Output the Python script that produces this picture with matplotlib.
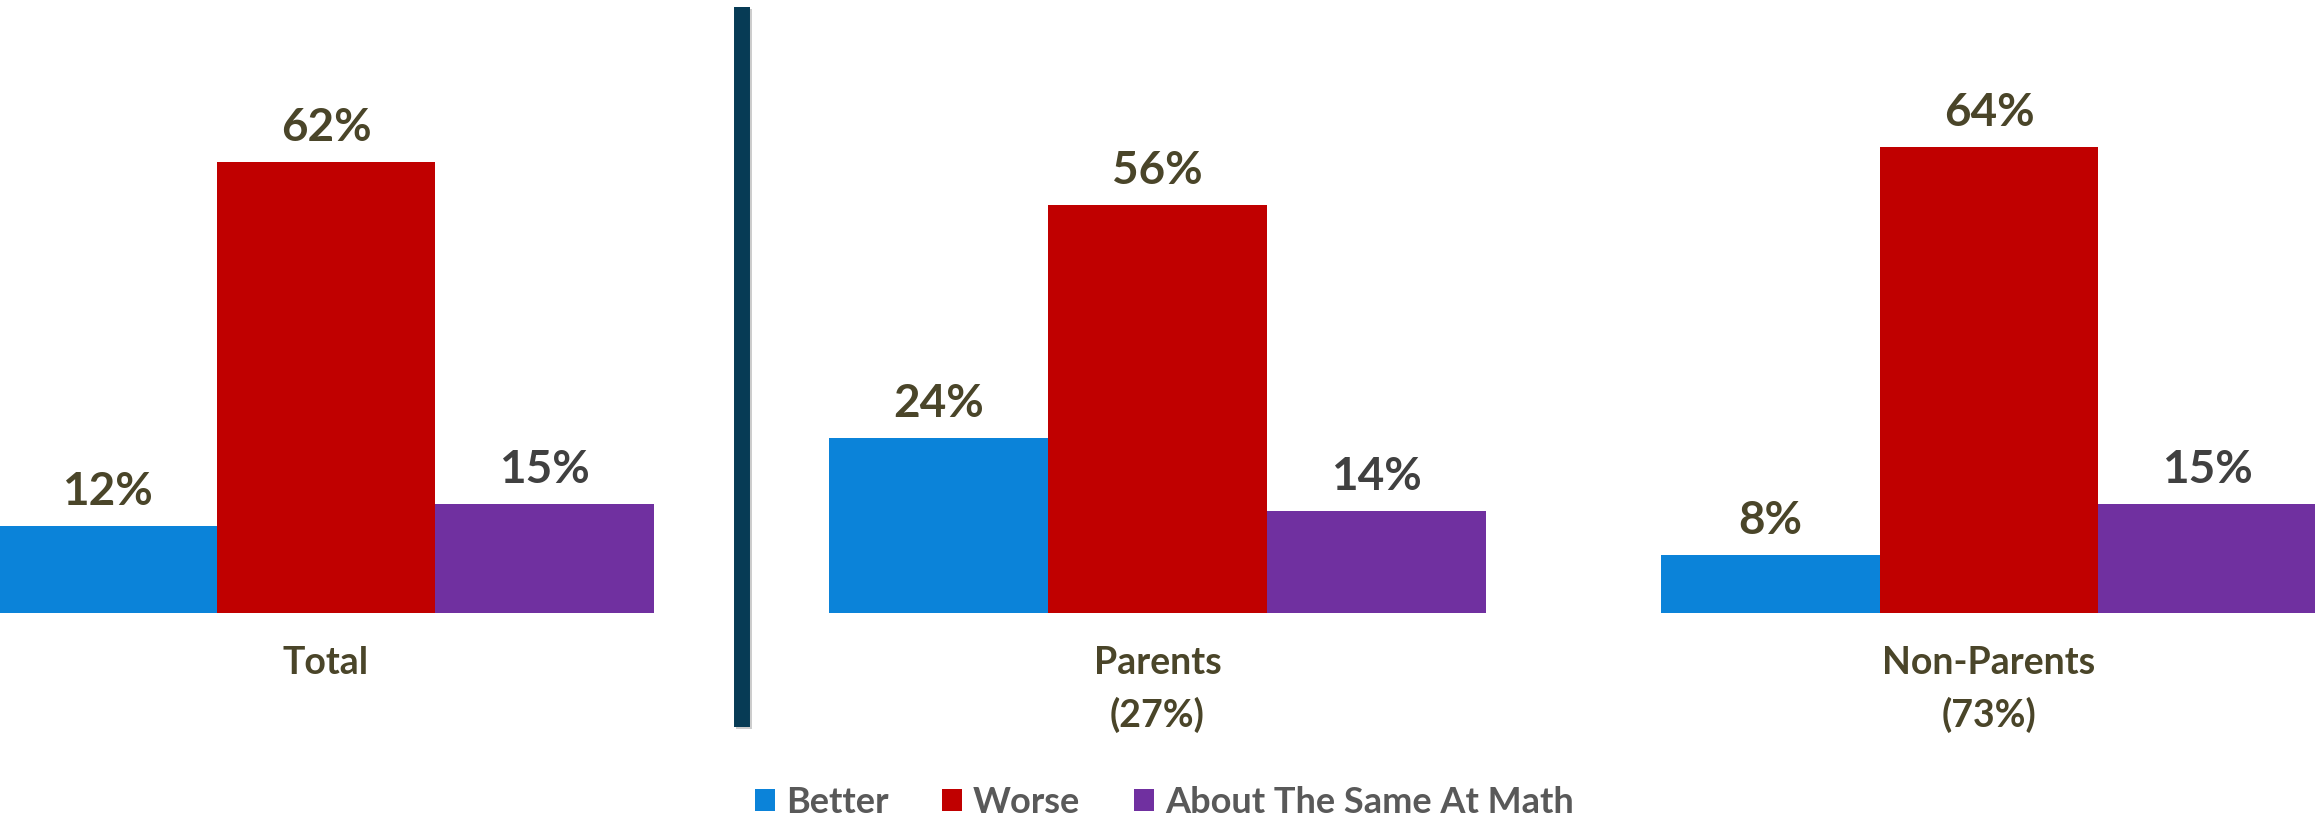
"""
Better / worse at math: grouped bars for Total, Parents and Non-Parents,
with a divider between the total and the split, legend along the bottom.
"""

import matplotlib

matplotlib.use("Agg")
import matplotlib.pyplot as plt
import matplotlib.patheffects as pe
import numpy as np

plt.rcParams["font.family"] = ["Lato", "DejaVu Sans"]
plt.rcParams["font.weight"] = "bold"

GROUPS = ["Total", "Parents\n(27%)", "Non-Parents\n(73%)"]
SERIES = ["Better", "Worse", "About The Same At Math"]
BETTER = [12, 24, 8]
WORSE = [62, 56, 64]
SAME = [15, 14, 15]

COLORS = ["#0B83D9", "#C00000", "#7030A0"]
LABEL_COLORS = ["#4A4529", "#4A4529", "#404040"]  # purple bars get grey labels
OLIVE = "#4A4529"
DIVIDER = "#073B55"

fig = plt.figure(figsize=(23.15, 8.22), dpi=100)
ax = fig.add_axes([0, 0, 1, 1])
ax.set_axis_off()

x = np.arange(len(GROUPS))
width = 0.263
for k, (name, vals) in enumerate(zip(SERIES, [BETTER, WORSE, SAME])):
    xs = x + (k - 1) * width
    ax.bar(xs, vals, width=width, color=COLORS[k], label=name, zorder=3)
    for xi, v in zip(xs, vals):
        ax.annotate(
            f"{v}%",
            (xi, v),
            textcoords="offset points",
            xytext=(0, 15),
            ha="center",
            va="baseline",
            fontsize=33,
            fontweight="bold",
            color=LABEL_COLORS[k],
        )

for xi, g in zip(x, GROUPS):
    ax.annotate(
        g,
        (xi, 0),
        textcoords="offset points",
        xytext=(0, -24),
        ha="center",
        va="top",
        fontsize=27,
        fontweight="bold",
        color=OLIVE,
        linespacing=1.55,
    )

# divider between Total and the parent split
ax.axvline(
    (x[0] + x[1]) / 2,
    ymin=0.116,
    ymax=0.991,
    color=DIVIDER,
    linewidth=11.5,
    solid_capstyle="butt",
    path_effects=[pe.SimpleLineShadow(offset=(1.5, -1.5), alpha=0.2), pe.Normal()],
)

ax.set_xlim(-0.392, len(GROUPS) - 1 + 0.392)
ax.set_ylim(-28.7, 84.2)

leg = fig.legend(
    loc="lower center",
    bbox_to_anchor=(0.503, -0.014),
    ncol=3,
    frameon=False,
    fontsize=26,
    handlelength=0.55,
    handleheight=0.55,
    handletextpad=0.3,
    columnspacing=1.5,
    borderaxespad=0,
)
for t in leg.get_texts():
    t.set_color("#595959")
    t.set_fontweight("bold")

fig.savefig("out.png", dpi=100)
